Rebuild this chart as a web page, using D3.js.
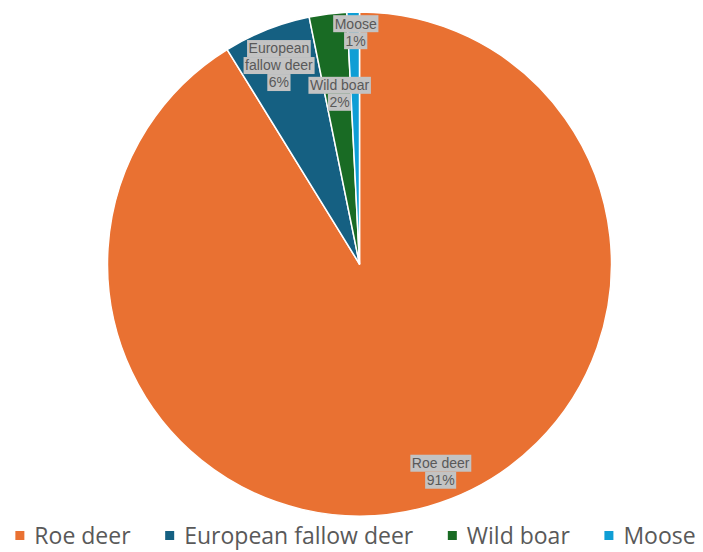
<!DOCTYPE html>
<html>
<head>
<meta charset="utf-8">
<script src="https://cdn.jsdelivr.net/npm/d3@7"></script>
<style>
  html, body { margin: 0; padding: 0; background: #fff; }
  svg { display: block; }
</style>
</head>
<body>
<div id="chart"></div>
<script>
// Data
const species = ['Roe deer', 'European fallow deer', 'Wild boar', 'Moose']
const shares = [91.2, 5.6, 2.4, 0.8]
const colors = ['#E97132', '#156082', '#196B24', '#0F9ED5']
// label lines (category split as Excel wraps it)
const labelLines = [['Roe deer'], ['European', 'fallow deer'], ['Wild boar'], ['Moose']]

const width = 703
const height = 552
const cx = 359.5
const cy = 264
const radius = 252

// where each data label sits: fraction of radius, small angle nudge (deg)
const labelPlace = [[0.885, -5.5], [0.85, -0.5], [0.68, 0.5], [0.92, 0.5]]

const svg = d3.select('#chart')
  .append('svg')
  .attr('width', width)
  .attr('height', height)

const pie = d3.pie().sort(null).value(d => d)
const arcs = pie(shares)
const arc = d3.arc().innerRadius(0).outerRadius(radius)
const total = d3.sum(shares)

const g = svg.append('g').attr('transform', `translate(${cx},${cy})`)

g.selectAll('path')
  .data(arcs)
  .join('path')
  .attr('d', arc)
  .attr('fill', (d, i) => colors[i])
  .attr('stroke', '#fff')
  .attr('stroke-width', 1.5)
  .attr('stroke-linejoin', 'round')

// Data labels
const lineH = 17
const labels = g.selectAll('g.lbl')
  .data(arcs)
  .join('g')
  .attr('class', 'lbl')
  .attr('transform', (d, i) => {
    const a = (d.startAngle + d.endAngle) / 2 + labelPlace[i][1] * Math.PI / 180
    const r = radius * labelPlace[i][0]
    return `translate(${r * Math.sin(a)},${-r * Math.cos(a)})`
  })

labels.each(function(d, i) {
  const lines = labelLines[i].concat([d3.format('.0f')(d.value / total * 100) + '%'])
  const grp = d3.select(this)
  const y0 = -(lines.length * lineH) / 2
  lines.forEach((t, k) => {
    const rect = grp.append('rect').attr('fill', '#c3c3c3')
    const txt = grp.append('text')
      .attr('x', 0)
      .attr('y', y0 + k * lineH + lineH / 2)
      .attr('dy', '0.35em')
      .attr('text-anchor', 'middle')
      .attr('font-family', 'Liberation Sans, Arial, sans-serif')
      .attr('font-size', '14px')
      .attr('fill', '#595959')
      .text(t)
    const bb = txt.node().getBBox()
    rect.attr('x', bb.x - 1.5)
      .attr('y', y0 + k * lineH)
      .attr('width', bb.width + 3)
      .attr('height', lineH)
  })
})

// Legend
const legend = svg.append('g')
const legendY = 544
const legendGap = 34
let xPos = 0
const items = legend.selectAll('g')
  .data(species)
  .join('g')

items.append('rect')
  .attr('width', 9)
  .attr('height', 9)
  .attr('y', legendY - 13)
  .attr('fill', (d, i) => colors[i])

items.append('text')
  .attr('x', 19)
  .attr('y', legendY)
  .attr('font-family', 'Open Sans, sans-serif')
  .attr('font-size', '23px')
  .attr('fill', '#595959')
  .text(d => d)

items.each(function() {
  const w = this.getBBox().width
  d3.select(this).attr('transform', `translate(${xPos},0)`)
  xPos += w + legendGap
})
const legendW = xPos - legendGap
legend.attr('transform', `translate(${(width - legendW) / 2 + 4},0)`)
</script>
</body>
</html>
